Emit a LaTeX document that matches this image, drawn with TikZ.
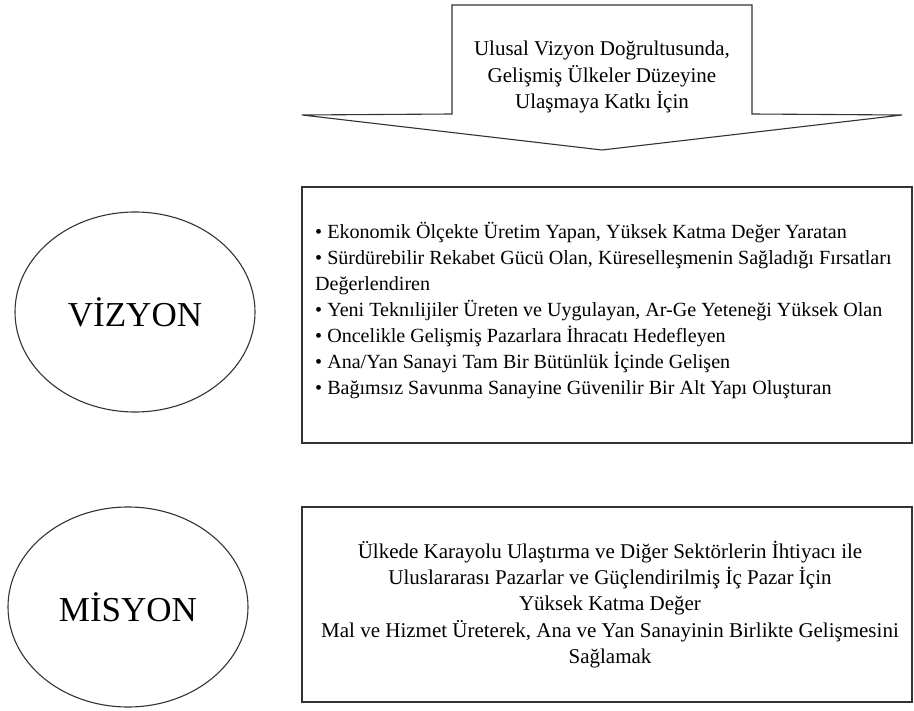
\documentclass[tikz,border=0pt]{standalone}
\usepackage{fontspec}
\setmainfont{Liberation Serif}
\usetikzlibrary{shapes.geometric}
\begin{document}
\begin{tikzpicture}[x=1pt,y=-1pt,
  edge/.style={draw=black!80,line width=1.3pt},
  bubble/.style={edge,ellipse,line width=1.1pt,minimum width=240pt,minimum height=200pt,inner sep=0pt,font=\fontsize{35}{40}\selectfont},
  panel/.style={edge,rectangle,minimum width=610pt,inner sep=0pt},
  txt/.style={font=\fontsize{21}{26.3}\selectfont,inner sep=0pt}]
\useasboundingbox (0,0) rectangle (914,711);
\fill[white] (0,0) rectangle (914,711);
% top arrow callout
\draw[edge,line width=1.1pt,line join=miter] (452,5) -- (752,5) -- (752,114) -- (902,115) -- (602,150) -- (302,115) -- (452,114) -- cycle;
\node[txt,align=center] (arrowtext) at (602,77) {Ulusal Vizyon Doğrultusunda,\\Gelişmiş Ülkeler Düzeyine\\Ulaşmaya Katkı İçin};
% vision
\node[bubble] (viz) at (135,312) {VİZYON};
\node[panel,minimum height=256pt] (vizbox) at (607,315) {};
\node[txt,align=left,anchor=west,font=\fontsize{20.1}{26}\selectfont] (viztext) at (315,311)
{• Ekonomik Ölçekte Üretim Yapan, Yüksek Katma Değer Yaratan\\
• Sürdürebilir Rekabet Gücü Olan, Küreselleşmenin Sağladığı Fırsatları\\
Değerlendiren\\
• Yeni Teknılijiler Üreten ve Uygulayan, Ar-Ge Yeteneği Yüksek Olan\\
• Oncelikle Gelişmiş Pazarlara İhracatı Hedefleyen\\
• Ana/Yan Sanayi Tam Bir Bütünlük İçinde Gelişen\\
• Bağımsız Savunma Sanayine Güvenilir Bir Alt Yapı Oluşturan};
% mission
\node[bubble] (mis) at (128,607) {MİSYON};
\node[panel,minimum height=195pt] (misbox) at (607,604.5) {};
\node[txt,align=center] (mistext) at (610,604.5)
{Ülkede Karayolu Ulaştırma ve Diğer Sektörlerin İhtiyacı ile\\
Uluslararası Pazarlar ve Güçlendirilmiş İç Pazar İçin\\
Yüksek Katma Değer\\
Mal ve Hizmet Üreterek, Ana ve Yan Sanayinin Birlikte Gelişmesini\\
Sağlamak};
\end{tikzpicture}
\end{document}
